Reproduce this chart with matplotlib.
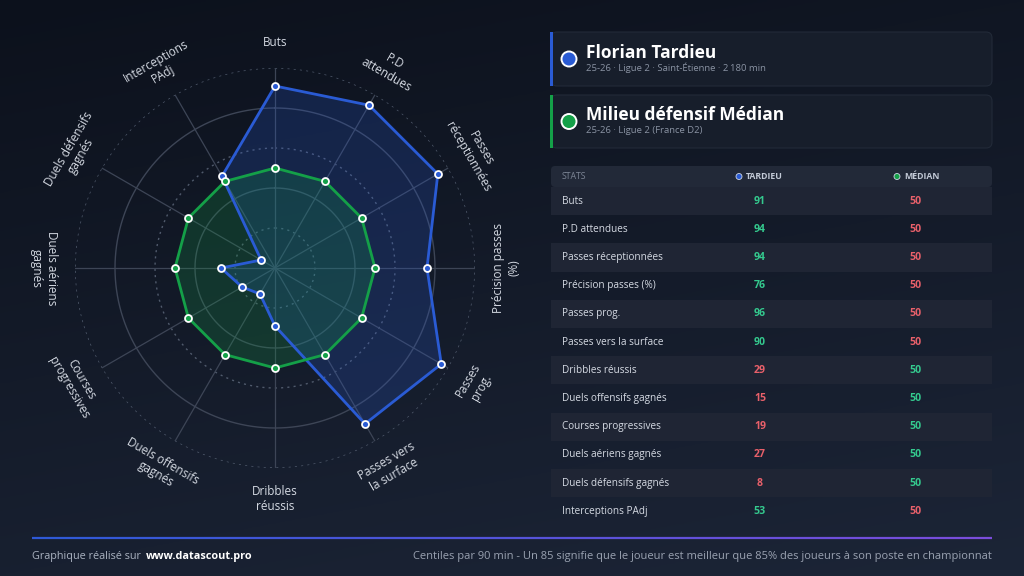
import numpy as np
import matplotlib.pyplot as plt
from matplotlib.patches import FancyBboxPatch, Rectangle, Circle
from matplotlib.collections import LineCollection

plt.rcParams["font.family"] = ["Open Sans", "DejaVu Sans"]

# --- data ---
categories = [
    "Buts", "P.D attendues", "Passes réceptionnées", "Précision passes (%)",
    "Passes prog.", "Passes vers la surface", "Dribbles réussis",
    "Duels offensifs gagnés", "Courses progressives", "Duels aériens gagnés",
    "Duels défensifs gagnés", "Interceptions PAdj",
]
axis_labels = [
    "Buts", "P.D\nattendues", "Passes\nréceptionnées", "Précision passes\n(%)",
    "Passes\nprog.", "Passes vers\nla surface", "Dribbles\nréussis",
    "Duels offensifs\ngagnés", "Courses\nprogressives", "Duels aériens\ngagnés",
    "Duels défensifs\ngagnés", "Interceptions\nPAdj",
]
player_values = [91, 94, 94, 76, 96, 90, 29, 15, 19, 27, 8, 53]
median_values = [50, 50, 50, 50, 50, 50, 50, 50, 50, 50, 50, 50]

player_name = "Florian Tardieu"
player_info = "25-26 · Ligue 2 · Saint-Étienne · 2\u2009180 min"
median_name = "Milieu défensif Médian"
median_info = "25-26 · Ligue 2 (France D2)"

BLUE = "#2a5bd4"
GREEN = "#14a048"
UP = "#34c98e"
DOWN = "#e8606a"
GRID = "#3d4556"
TXT = "#d5dae3"
SUB = "#8a93a3"

W, H = 1024, 576
fig = plt.figure(figsize=(W / 100, H / 100), dpi=100)

# background / ui layer in pixel coordinates
ui = fig.add_axes([0, 0, 1, 1], zorder=0)
ui.set_xlim(0, W)
ui.set_ylim(H, 0)
ui.axis("off")

yy, xx = np.mgrid[0:1:200j, 0:1:200j]
t = np.clip(0.75 * yy + 0.25 * xx, 0, 1)
c0 = np.array([0x0c, 0x11, 0x1c]) / 255
c1 = np.array([0x1c, 0x25, 0x37]) / 255
grad = c0[None, None, :] * (1 - t[..., None]) + c1[None, None, :] * t[..., None]
ui.imshow(grad, extent=[0, W, H, 0], aspect="auto", zorder=0)

# --- radar ---
cx, cy, R = 275, 268, 200
ax = fig.add_axes([(cx - R) / W, (H - cy - R) / H, 2 * R / W, 2 * R / H],
                  projection="polar", zorder=2)
ax.set_facecolor("none")
ax.set_theta_zero_location("N")
ax.set_theta_direction(-1)
ax.set_ylim(0, 100)
ax.grid(False)
ax.spines["polar"].set_visible(False)
ax.set_xticks([])
ax.set_yticks([])

n = len(categories)
angles = np.linspace(0, 2 * np.pi, n, endpoint=False)
circ = np.linspace(0, 2 * np.pi, 361)
for lvl in [20, 40, 60, 80, 100]:
    if lvl in (40, 80):
        ax.plot(circ, [lvl] * len(circ), color=GRID, lw=1.0, zorder=1)
    else:
        ax.plot(circ, [lvl] * len(circ), color="#505a6c", lw=1.0,
                ls=(0, (1.5, 3)), zorder=1)
for a in angles:
    ax.plot([a, a], [0, 100], color=GRID, lw=0.9, zorder=1)

ang_c = np.concatenate([angles, angles[:1]])
pv = np.array(player_values + player_values[:1])
mv = np.array(median_values + median_values[:1])
ax.fill(ang_c, pv, color=BLUE, alpha=0.22, zorder=2, lw=0)
ax.fill(ang_c, mv, color=GREEN, alpha=0.22, zorder=3, lw=0)
ax.plot(ang_c, pv, color=BLUE, lw=2, zorder=4)
ax.plot(ang_c, mv, color=GREEN, lw=2, zorder=5)
ax.plot(angles, player_values, "o", ms=5, mfc=BLUE, mec="white", mew=1.3, zorder=6)
ax.plot(angles, median_values, "o", ms=5, mfc=GREEN, mec="white", mew=1.3, zorder=7)

for a, lab in zip(angles, axis_labels):
    deg = np.degrees(a)
    rot = -deg if (deg < 90 or deg > 270) else 180 - deg
    r_lab = 115.5 if "\n" in lab else 112.5
    ax.text(a, r_lab, lab, rotation=rot, rotation_mode="anchor",
            ha="center", va="center", color=TXT, fontsize=8.5,
            linespacing=1.2, clip_on=False)

# --- cards ---
def card(y0, y1, color, name, info):
    ui.add_patch(FancyBboxPatch((551, y0), 441, y1 - y0,
                                boxstyle="round,pad=0,rounding_size=6",
                                fc="#171e2b", ec="#222a38", lw=0.8, zorder=1))
    ui.add_patch(Rectangle((550, y0), 3, y1 - y0, fc=color, ec="none", zorder=2))
    ym = (y0 + y1) / 2
    ui.add_patch(Circle((569, ym), 7.5, fc=color, ec="white", lw=1.4, zorder=3))
    ui.text(586, ym - 6, name, color="white", fontsize=12.5, fontweight="bold",
            va="center", ha="left", zorder=3)
    ui.text(586, ym + 9, info, color=SUB, fontsize=6.8, va="center", ha="left",
            zorder=3)


card(32, 86, BLUE, player_name, player_info)
card(95, 148, GREEN, median_name, median_info)

# --- table ---
tx0, tx1 = 551, 992
col_p, col_m = 760, 915
ui.add_patch(FancyBboxPatch((tx0, 166), tx1 - tx0, 21,
                            boxstyle="round,pad=0,rounding_size=4",
                            fc="#222938", ec="none", zorder=1))
ui.text(562, 176.5, "STATS", color="#7d8696", fontsize=6.3, va="center", ha="left")
ui.add_patch(Circle((col_p - 21, 176.5), 3, fc=BLUE, ec="#cfd6e4", lw=0.6, zorder=2))
ui.text(col_p - 14, 176.5, "TARDIEU", color="#c2c9d6", fontsize=6.3,
        fontweight="bold", va="center", ha="left")
ui.add_patch(Circle((col_m - 18, 176.5), 3, fc=GREEN, ec="#cfd6e4", lw=0.6, zorder=2))
ui.text(col_m - 11, 176.5, "MÉDIAN", color="#c2c9d6", fontsize=6.3,
        fontweight="bold", va="center", ha="left")

row_h = 28.2
for i, (cat, p, m) in enumerate(zip(categories, player_values, median_values)):
    y0 = 187 + i * row_h
    yc = y0 + row_h / 2
    if i % 2 == 0:
        ui.add_patch(Rectangle((tx0, y0), tx1 - tx0, row_h, fc="#1f2534",
                               ec="none", zorder=1))
    ui.text(562, yc, cat, color=TXT, fontsize=7.2, va="center", ha="left", zorder=2)
    ui.text(col_p, yc, str(p), color=UP if p > m else DOWN, fontsize=7.6,
            fontweight="bold", va="center", ha="center", zorder=2)
    ui.text(col_m, yc, str(m), color=UP if m > p else DOWN, fontsize=7.6,
            fontweight="bold", va="center", ha="center", zorder=2)

# --- footer ---
xs = np.linspace(32, 992, 200)
segs = [[(xs[k], 538), (xs[k + 1], 538)] for k in range(len(xs) - 1)]
cols = [(0.18 + 0.3 * f, 0.35 - 0.05 * f, 0.84 + 0.02 * f) for f in np.linspace(0, 1, len(segs))]
ui.add_collection(LineCollection(segs, colors=cols, linewidths=1.6, zorder=2))

ui.text(32, 556, "Graphique réalisé sur ", color="#aab2c0", fontsize=7.8,
        va="center", ha="left")
ui.text(146, 556, "www.datascout.pro", color="white", fontsize=7.8,
        fontweight="bold", va="center", ha="left")
ui.text(992, 556,
        "Centiles par 90 min - Un 85 signifie que le joueur est meilleur que 85% "
        "des joueurs à son poste en championnat",
        color="#9aa2b1", fontsize=8.05, va="center", ha="right")

fig.savefig("out.png", dpi=100, facecolor="#0e1420")
